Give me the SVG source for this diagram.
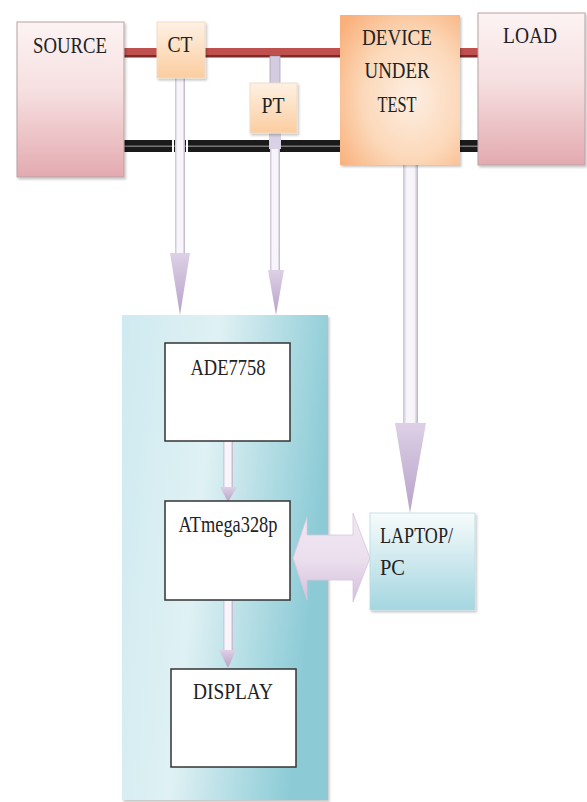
<svg xmlns="http://www.w3.org/2000/svg" width="587" height="802" viewBox="0 0 587 802">
<defs>
<linearGradient id="gPink" x1="0" y1="0" x2="0" y2="1">
<stop offset="0" stop-color="#fdf3f3"/><stop offset="0.45" stop-color="#f6dfe0"/><stop offset="1" stop-color="#e3aab0"/>
</linearGradient>
<linearGradient id="gPeach" x1="0" y1="0" x2="0" y2="1">
<stop offset="0" stop-color="#fef1e4"/><stop offset="1" stop-color="#fbcd9f"/>
</linearGradient>
<radialGradient id="gDut" cx="0.6" cy="0.55" r="0.75">
<stop offset="0" stop-color="#fdeee2"/><stop offset="0.55" stop-color="#fcd8b9"/><stop offset="1" stop-color="#f9b07a"/>
</radialGradient>
<linearGradient id="gPanel" x1="0" y1="0" x2="1" y2="0.25">
<stop offset="0" stop-color="#cfeaf0"/><stop offset="0.45" stop-color="#dff1f4"/><stop offset="1" stop-color="#8ccbd6"/>
</linearGradient>
<linearGradient id="gLap" x1="0" y1="0" x2="0" y2="1">
<stop offset="0" stop-color="#f7fbfc"/><stop offset="1" stop-color="#a4d6e0"/>
</linearGradient>
<linearGradient id="gHead" x1="0" y1="0" x2="0" y2="1">
<stop offset="0" stop-color="#ddd0e6"/><stop offset="1" stop-color="#b7a2c8"/>
</linearGradient>
<linearGradient id="gShaft" x1="0" y1="0" x2="1" y2="0">
<stop offset="0" stop-color="#c9c1d6"/><stop offset="0.25" stop-color="#f7f5fa"/><stop offset="0.75" stop-color="#f7f5fa"/><stop offset="1" stop-color="#b9b0c8"/>
</linearGradient>
<linearGradient id="gDbl" x1="0" y1="0" x2="0" y2="1">
<stop offset="0" stop-color="#f1e6f2"/><stop offset="0.5" stop-color="#ece0ee"/><stop offset="1" stop-color="#d3bfdb"/>
</linearGradient>
<filter id="sh" x="-10%" y="-10%" width="125%" height="125%">
<feDropShadow dx="1.5" dy="2" stdDeviation="1.2" flood-color="#000" flood-opacity="0.22"/>
</filter>
<style>
.t{font-family:"Liberation Serif","Times New Roman",serif;font-size:24px;fill:#222;}
.inner{fill:#fff;stroke:#333;stroke-width:1.5;}
.shaft{fill:url(#gShaft);}
.head{fill:url(#gHead);}
</style>
</defs>
<rect width="587" height="802" fill="#fff"/>

<g id="lines">
<rect x="124" y="48" width="216" height="9" fill="#c0504d"/>
<rect x="124" y="55" width="216" height="2.5" fill="#7d2a28"/>
<rect x="460" y="48" width="18" height="9" fill="#c0504d"/>
<rect x="460" y="55" width="18" height="2.5" fill="#7d2a28"/>
<rect x="124" y="140" width="216" height="12" fill="#1a1a1a"/>
<rect x="124" y="145.5" width="216" height="1.5" fill="#777"/>
<rect x="460" y="140" width="18" height="12" fill="#1a1a1a"/>
<rect x="460" y="145.5" width="18" height="1.5" fill="#777"/>
</g>

<g id="source"><rect x="17" y="22" width="107" height="155" fill="url(#gPink)" stroke="#b7a2a4" stroke-width="1" filter="url(#sh)"/>
<text class="t" x="70" y="53" text-anchor="middle" textLength="74" lengthAdjust="spacingAndGlyphs">SOURCE</text></g>

<g id="load"><rect x="478" y="13" width="107" height="152" fill="url(#gPink)" stroke="#b7a2a4" stroke-width="1" filter="url(#sh)"/>
<text class="t" x="530" y="43" text-anchor="middle" textLength="54" lengthAdjust="spacingAndGlyphs">LOAD</text></g>

<g id="connectors">
<rect x="175" y="78" width="10" height="178" class="shaft"/>
<rect x="172" y="140" width="2" height="12" fill="#fff"/>
<rect x="186" y="140" width="2" height="12" fill="#fff"/>
<polygon points="170,253 190,253 180,315" class="head"/>
<rect x="270" y="56" width="10" height="29" fill="#d3cbe0" stroke="#aaa0bb" stroke-width="0.8"/>
<rect x="270" y="133" width="10" height="140" class="shaft"/>
<rect x="269" y="131" width="12" height="18" fill="#d9d2e6"/>
<polygon points="268,270 284,270 276,315" class="head"/>
<rect x="403" y="165" width="15" height="260" class="shaft"/>
<polygon points="395,423 426,423 410,513" class="head"/>
</g>

<g id="ct"><rect x="157" y="22" width="48" height="56" fill="url(#gPeach)" stroke="#f1dcc6" stroke-width="1" filter="url(#sh)"/>
<text class="t" x="180" y="52" text-anchor="middle" textLength="25" lengthAdjust="spacingAndGlyphs">CT</text></g>

<g id="pt"><rect x="250" y="83" width="47" height="50" fill="url(#gPeach)" stroke="#f1dcc6" stroke-width="1" filter="url(#sh)"/>
<text class="t" x="273" y="113" text-anchor="middle" textLength="23" lengthAdjust="spacingAndGlyphs">PT</text></g>

<g id="dut"><rect x="340" y="15" width="120" height="150" fill="url(#gDut)" filter="url(#sh)"/>
<text class="t" x="397" y="45" text-anchor="middle" textLength="70" lengthAdjust="spacingAndGlyphs">DEVICE</text>
<text class="t" x="397" y="78" text-anchor="middle" textLength="65" lengthAdjust="spacingAndGlyphs">UNDER</text>
<text class="t" x="397" y="112" text-anchor="middle" textLength="39" lengthAdjust="spacingAndGlyphs">TEST</text></g>

<g id="panel"><rect x="122" y="315" width="206" height="485" fill="url(#gPanel)" filter="url(#sh)"/></g>

<g id="inner-connectors">
<rect x="223" y="441" width="10" height="47" class="shaft"/>
<polygon points="220,487 237,487 228,502" class="head"/>
<rect x="223" y="600" width="10" height="51" class="shaft"/>
<polygon points="219,650 236,650 228,668" class="head"/>
<polygon points="293,558 307,517 307,535 353,535 353,513 370,558 353,602 353,580 307,580 307,600" fill="url(#gDbl)" stroke="#d6c6dc" stroke-width="0.8"/>
</g>

<g id="ade7758"><rect x="165" y="343" width="125" height="98" class="inner"/>
<text class="t" x="228" y="375" text-anchor="middle" textLength="75" lengthAdjust="spacingAndGlyphs">ADE7758</text></g>

<g id="atmega"><rect x="165" y="501" width="125" height="99" class="inner"/>
<text class="t" x="228" y="532" text-anchor="middle" textLength="99" lengthAdjust="spacingAndGlyphs">ATmega328p</text></g>

<g id="display"><rect x="171" y="669" width="125" height="98" class="inner"/>
<text class="t" x="233" y="699" text-anchor="middle" textLength="80" lengthAdjust="spacingAndGlyphs">DISPLAY</text></g>

<g id="laptop"><rect x="370" y="513" width="105" height="97" fill="url(#gLap)" stroke="#b9dbe2" stroke-width="0.8" filter="url(#sh)"/>
<text class="t" x="380" y="543" textLength="73" lengthAdjust="spacingAndGlyphs">LAPTOP/</text>
<text class="t" x="380" y="575" textLength="25" lengthAdjust="spacingAndGlyphs">PC</text></g>
</svg>
